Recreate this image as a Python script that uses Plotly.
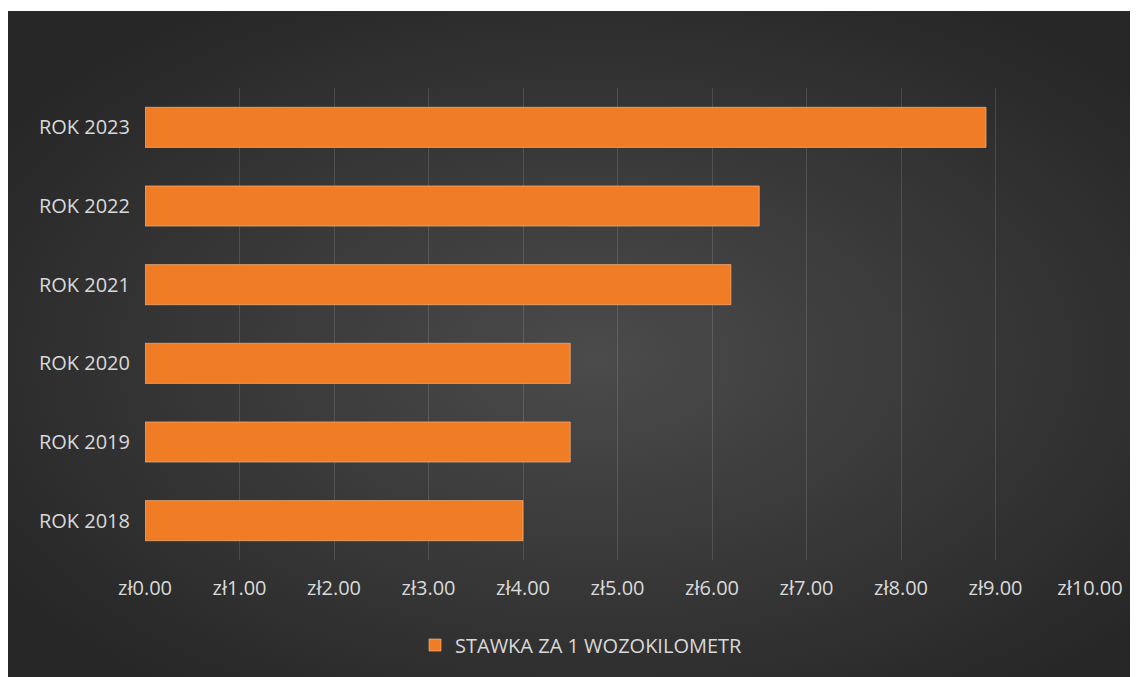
import base64
import plotly.graph_objects as go

categories = ["ROK 2018", "ROK 2019", "ROK 2020", "ROK 2021", "ROK 2022", "ROK 2023"]
values = [4.00, 4.50, 4.50, 6.20, 6.50, 8.90]
series_name = "STAWKA ZA 1 WOZOKILOMETR"
x_ticks = [0, 1, 2, 3, 4, 5, 6, 7, 8, 9, 10]
x_tick_text = ["zł%.2f" % v for v in x_ticks]

# page body adds an 8px offset; figure coords are shifted accordingly
W, H = 1130, 669
ML, MR, MT, MB = 137, 48, 80, 117
PW, PH = W - ML - MR, H - MT - MB

def px_x(p):
    return (p - ML) / PW

def px_y(p):
    return 1 - (p - MT) / PH

svg = (
    '<svg xmlns="http://www.w3.org/2000/svg" width="1130" height="666" '
    'viewBox="0 0 1130 666" preserveAspectRatio="none">'
    '<defs><radialGradient id="g" cx="52%" cy="52%" r="62%">'
    '<stop offset="0" stop-color="#4b4b4b"/>'
    '<stop offset="1" stop-color="#272727"/>'
    '</radialGradient></defs>'
    '<rect x="0" y="0" width="1130" height="666" fill="url(#g)"/></svg>'
)
bg_src = "data:image/svg+xml;base64," + base64.b64encode(svg.encode()).decode()

font = "Open Sans, Noto Sans, sans-serif"
txt = "#d9d9d9"
fs = 20

fig = go.Figure()
fig.add_trace(go.Bar(
    y=categories, x=values, orientation="h", name=series_name,
    marker=dict(color="#f07c26", line=dict(color="rgba(255,190,140,0.6)", width=1)),
    showlegend=True,
))

fig.update_layout(
    width=W, height=H,
    margin=dict(l=ML, r=MR, t=MT, b=MB, autoexpand=False),
    paper_bgcolor="white",
    plot_bgcolor="rgba(0,0,0,0)",
    bargap=0.49,
    font=dict(family=font, color=txt, size=fs),
    images=[dict(
        source=bg_src, xref="paper", yref="paper",
        x=px_x(0), y=px_y(3),
        sizex=px_x(W) - px_x(0), sizey=px_y(3) - px_y(H),
        xanchor="left", yanchor="top", sizing="stretch", layer="below",
    )],
    xaxis=dict(
        range=[0, 10], tickvals=x_ticks, ticktext=x_tick_text,
        showgrid=True, gridcolor="rgba(255,255,255,0.13)", gridwidth=1,
        zeroline=False, showline=False, ticks="",
        ticklabelstandoff=14,
        tickfont=dict(size=fs, color=txt, family=font),
    ),
    yaxis=dict(
        showgrid=False, zeroline=False, showline=False, ticks="",
        ticklabelstandoff=14,
        tickfont=dict(size=fs, color=txt, family=font),
    ),
    legend=dict(
        orientation="h", x=px_x(407), y=px_y(637),
        xanchor="left", yanchor="middle",
        bgcolor="rgba(0,0,0,0)", font=dict(size=fs, color=txt, family=font),
    ),
)

fig.write_html("out.html")
